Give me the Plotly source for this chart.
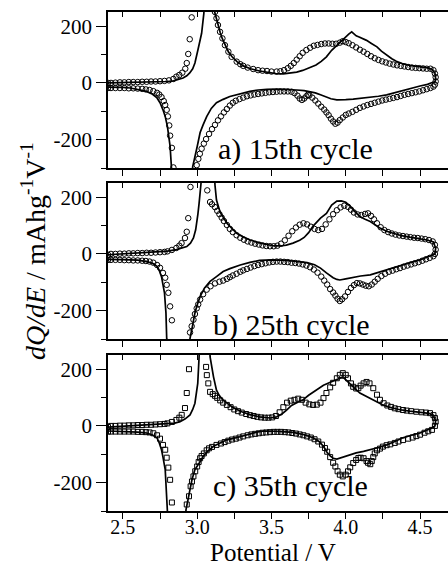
import plotly.graph_objects as go

# ---------------- data: (potential V, dQ/dE mAh g^-1 V^-1) ----------------
# Panel a) 15th cycle
A_LINE_CHG = [(2.40, 0), (2.50, 1), (2.60, 2), (2.70, 3), (2.80, 5), (2.84, 7), (2.88, 12), (2.905, 17),
              (2.93, 25), (2.95, 35), (2.97, 50), (2.985, 70), (3.005, 116), (3.02, 150), (3.03, 175),
              (3.045, 245), (3.08, 700), (3.118, 250), (3.13, 225), (3.14, 202), (3.155, 178), (3.17, 155),
              (3.19, 130), (3.21, 110), (3.235, 92), (3.27, 74), (3.31, 60), (3.36, 50), (3.42, 42),
              (3.48, 36), (3.53, 33), (3.58, 32), (3.625, 34), (3.67, 38), (3.71, 44), (3.75, 52),
              (3.80, 63), (3.835, 76), (3.87, 92), (3.905, 115), (3.94, 133), (3.97, 150), (4.00, 163),
              (4.02, 172), (4.04, 180), (4.06, 170), (4.07, 166), (4.09, 162), (4.11, 158), (4.14, 150),
              (4.17, 140), (4.21, 127), (4.24, 112), (4.275, 98), (4.31, 85), (4.34, 76), (4.38, 68),
              (4.43, 62), (4.48, 58), (4.545, 54), (4.58, 48), (4.60, 35), (4.605, 15), (4.60, 2)]
A_LINE_DIS = [(4.59, 3), (4.55, -5), (4.50, -11), (4.45, -18), (4.385, -28), (4.33, -35), (4.275, -42),
              (4.22, -47), (4.165, -51), (4.10, -54), (4.05, -57), (4.00, -59), (3.94, -60), (3.90, -56),
              (3.865, -50), (3.83, -42), (3.795, -35), (3.76, -30), (3.72, -27), (3.67, -25), (3.60, -23),
              (3.535, -22), (3.47, -23), (3.41, -25), (3.355, -30), (3.29, -38), (3.22, -48), (3.175, -58),
              (3.13, -70), (3.095, -90), (3.064, -119), (3.04, -148), (3.02, -175), (3.00, -225),
              (2.985, -262), (2.97, -295), (2.90, -900), (2.83, -300), (2.818, -224), (2.80, -154),
              (2.785, -118), (2.77, -95), (2.75, -70), (2.73, -53), (2.70, -40), (2.66, -30), (2.60, -22),
              (2.55, -18), (2.50, -16), (2.45, -15), (2.40, -15)]
A_MARK_CHG = [(2.40, 0), (2.42, 0), (2.45, 1), (2.48, 2), (2.51, 2), (2.54, 3), (2.57, 3), (2.60, 3),
              (2.63, 4), (2.66, 4), (2.69, 5), (2.72, 5), (2.75, 6), (2.78, 7), (2.81, 9), (2.84, 14),
              (2.86, 22), (2.88, 28), (2.90, 36), (2.92, 50), (2.93, 70), (2.94, 102), (2.95, 154),
              (2.963, 231), (3.12, 250), (3.13, 228), (3.14, 204), (3.154, 180), (3.17, 157), (3.187, 133),
              (3.21, 110), (3.232, 92), (3.266, 75), (3.29, 66), (3.31, 60), (3.34, 54), (3.377, 49),
              (3.41, 45), (3.44, 43), (3.47, 42), (3.50, 40), (3.535, 40), (3.56, 41), (3.585, 45),
              (3.61, 52), (3.63, 60), (3.65, 70), (3.67, 82), (3.69, 94), (3.71, 106), (3.735, 116),
              (3.76, 124), (3.785, 131), (3.81, 134), (3.835, 137), (3.86, 139), (3.885, 139), (3.91, 138),
              (3.935, 138), (3.96, 142), (3.98, 147), (4.00, 144), (4.02, 140), (4.045, 133), (4.07, 125),
              (4.095, 117), (4.12, 110), (4.145, 102), (4.17, 94), (4.195, 87), (4.22, 81), (4.245, 76),
              (4.27, 72), (4.295, 68), (4.32, 65), (4.345, 62), (4.37, 60), (4.395, 58), (4.42, 56),
              (4.445, 54), (4.47, 53), (4.495, 52), (4.52, 51), (4.545, 50), (4.57, 50), (4.59, 45),
              (4.60, 33), (4.605, 20), (4.605, 5), (4.60, -6)]
A_MARK_DIS = [(4.59, -13), (4.57, -18), (4.545, -22), (4.52, -26), (4.495, -30), (4.47, -33), (4.445, -36),
              (4.42, -39), (4.395, -42), (4.37, -46), (4.345, -50), (4.32, -53), (4.295, -56), (4.27, -59),
              (4.245, -62), (4.22, -66), (4.195, -70), (4.17, -74), (4.145, -78), (4.12, -83), (4.095, -88),
              (4.07, -95), (4.045, -102), (4.02, -108), (4.00, -113), (3.98, -122), (3.96, -131),
              (3.945, -140), (3.93, -144), (3.915, -136), (3.90, -126), (3.885, -114), (3.87, -104),
              (3.855, -94), (3.835, -84), (3.815, -73), (3.795, -62), (3.775, -52), (3.755, -44),
              (3.745, -42), (3.735, -47), (3.72, -55), (3.705, -60), (3.69, -55), (3.675, -45),
              (3.655, -36), (3.635, -31), (3.61, -30), (3.585, -30), (3.56, -30), (3.535, -31), (3.51, -32),
              (3.485, -33), (3.46, -35), (3.435, -37), (3.41, -39), (3.385, -41), (3.36, -44), (3.335, -47),
              (3.31, -52), (3.285, -57), (3.26, -63), (3.24, -70), (3.22, -80), (3.20, -92), (3.18, -104),
              (3.16, -118), (3.14, -132), (3.12, -148), (3.10, -163), (3.08, -180), (3.06, -198),
              (3.045, -214), (3.03, -232), (3.018, -250), (3.008, -268), (2.997, -290),
              (2.84, -298), (2.83, -229), (2.818, -186), (2.812, -150), (2.803, -118), (2.795, -95),
              (2.785, -78), (2.775, -64), (2.76, -50), (2.745, -41), (2.73, -35), (2.705, -29), (2.68, -25),
              (2.655, -23), (2.63, -21), (2.60, -20), (2.57, -19), (2.54, -19), (2.51, -18), (2.48, -18),
              (2.45, -18), (2.42, -18), (2.40, -18)]

# Panel b) 25th cycle
B_LINE_CHG = [(2.40, -3), (2.50, 0), (2.60, 2), (2.68, 6), (2.75, 8), (2.80, 10), (2.86, 15), (2.90, 20),
              (2.93, 26), (2.955, 38), (2.975, 56), (2.99, 85), (2.997, 108), (3.005, 140), (3.013, 178),
              (3.026, 249), (3.07, 800), (3.12, 242), (3.13, 190), (3.154, 148), (3.20, 108), (3.235, 88),
              (3.266, 73), (3.31, 60), (3.355, 49), (3.41, 40), (3.47, 32), (3.52, 28), (3.557, 28),
              (3.60, 31), (3.645, 38), (3.69, 48), (3.72, 58), (3.75, 75), (3.78, 98), (3.80, 110),
              (3.83, 126), (3.87, 143), (3.905, 172), (3.94, 186), (3.97, 187), (4.00, 182), (4.03, 168),
              (4.06, 150), (4.095, 132), (4.13, 122), (4.165, 114), (4.20, 102), (4.23, 91), (4.275, 80),
              (4.32, 72), (4.37, 65), (4.43, 59), (4.49, 54), (4.545, 49), (4.59, 42), (4.605, 20), (4.60, 0)]
B_LINE_DIS = [(4.59, -3), (4.545, -12), (4.50, -21), (4.44, -30), (4.385, -39), (4.33, -47), (4.275, -56),
              (4.22, -65), (4.165, -74), (4.10, -78), (4.05, -82), (4.00, -88), (3.96, -92), (3.94, -90),
              (3.915, -84), (3.89, -76), (3.87, -67), (3.83, -50), (3.79, -38), (3.74, -31), (3.67, -26),
              (3.60, -23), (3.50, -21), (3.42, -23), (3.355, -30), (3.29, -39), (3.22, -52), (3.175, -62),
              (3.13, -80), (3.087, -97), (3.05, -120), (3.02, -150), (3.00, -180), (2.985, -208),
              (2.97, -250), (2.952, -298), (2.88, -900), (2.795, -298), (2.79, -208), (2.78, -137),
              (2.76, -80), (2.745, -58), (2.73, -44), (2.70, -33), (2.66, -27), (2.60, -22), (2.50, -20),
              (2.40, -19)]
B_MARK_CHG = [(2.40, -3), (2.42, 0), (2.45, 0), (2.48, 1), (2.51, 1), (2.54, 2), (2.57, 2), (2.60, 3),
              (2.63, 3), (2.66, 4), (2.69, 4), (2.72, 5), (2.75, 6), (2.78, 7), (2.80, 9), (2.83, 14),
              (2.86, 21), (2.88, 29), (2.895, 38), (2.918, 56), (2.93, 78), (2.94, 126), (2.955, 236),
              (3.068, 224), (3.087, 183), (3.10, 175), (3.12, 165), (3.135, 152), (3.15, 140), (3.165, 128),
              (3.18, 116), (3.20, 102), (3.22, 88), (3.24, 77), (3.265, 66), (3.29, 57), (3.315, 50),
              (3.34, 44), (3.365, 40), (3.39, 36), (3.415, 33), (3.44, 30), (3.465, 28), (3.49, 27),
              (3.515, 27), (3.54, 29), (3.565, 36), (3.59, 48), (3.615, 64), (3.64, 80), (3.665, 93),
              (3.69, 103), (3.715, 108), (3.74, 104), (3.765, 96), (3.79, 88), (3.815, 84), (3.84, 88),
              (3.865, 104), (3.89, 122), (3.915, 140), (3.94, 154), (3.965, 164), (3.99, 170), (4.015, 166),
              (4.035, 156), (4.055, 146), (4.08, 139), (4.105, 137), (4.13, 141), (4.15, 143), (4.17, 134),
              (4.19, 122), (4.21, 108), (4.235, 94), (4.26, 84), (4.285, 77), (4.31, 72), (4.335, 68),
              (4.36, 65), (4.385, 63), (4.41, 61), (4.435, 59), (4.46, 57), (4.485, 56), (4.51, 54),
              (4.535, 52), (4.56, 49), (4.585, 44), (4.60, 32), (4.605, 15), (4.60, 0)]
B_MARK_DIS = [(4.59, -8), (4.565, -14), (4.54, -19), (4.515, -24), (4.49, -29), (4.465, -33), (4.44, -37),
              (4.415, -41), (4.39, -45), (4.365, -50), (4.34, -54), (4.315, -59), (4.29, -63), (4.265, -70),
              (4.24, -78), (4.215, -88), (4.195, -98), (4.175, -108), (4.155, -114), (4.135, -112),
              (4.115, -108), (4.095, -104), (4.075, -103), (4.055, -110), (4.035, -120), (4.015, -134),
              (3.995, -150), (3.975, -160), (3.96, -166), (3.945, -158), (3.93, -147), (3.915, -136),
              (3.895, -124), (3.875, -108), (3.855, -94), (3.835, -80), (3.81, -66), (3.785, -55),
              (3.76, -47), (3.735, -41), (3.71, -37), (3.685, -34), (3.66, -32), (3.635, -31), (3.61, -29),
              (3.585, -28), (3.56, -27), (3.535, -27), (3.51, -28), (3.485, -30), (3.46, -33), (3.435, -36),
              (3.41, -39), (3.385, -43), (3.36, -48), (3.335, -53), (3.31, -58), (3.29, -63), (3.265, -70),
              (3.24, -76), (3.22, -82), (3.20, -88), (3.175, -94), (3.15, -98), (3.12, -104), (3.09, -114),
              (3.064, -126), (3.04, -142), (3.02, -161), (3.007, -178), (2.997, -192), (2.985, -212),
              (2.975, -232), (2.963, -255), (2.952, -277),
              (2.83, -234), (2.818, -185), (2.806, -137), (2.795, -109), (2.785, -84), (2.77, -67),
              (2.75, -49), (2.73, -39), (2.705, -31), (2.68, -27), (2.655, -25), (2.63, -24), (2.60, -23),
              (2.57, -23), (2.54, -22), (2.51, -22), (2.48, -21), (2.45, -21), (2.42, -21), (2.40, -21)]

# Panel c) 35th cycle
C_LINE_CHG = [(2.40, -4), (2.50, -1), (2.60, 1), (2.70, 3), (2.80, 7), (2.85, 10), (2.885, 15), (2.92, 25),
              (2.952, 39), (2.97, 58), (2.985, 80), (2.997, 115), (3.004, 150), (3.013, 243), (3.05, 800),
              (3.087, 243), (3.10, 200), (3.11, 173), (3.13, 126), (3.15, 106), (3.175, 91), (3.21, 76),
              (3.24, 65), (3.30, 50), (3.355, 40), (3.42, 32), (3.49, 28), (3.535, 32), (3.57, 42),
              (3.60, 55), (3.635, 72), (3.67, 82), (3.71, 91), (3.75, 108), (3.80, 126), (3.85, 143),
              (3.90, 155), (3.94, 162), (3.97, 170), (3.99, 168), (4.02, 152), (4.05, 138), (4.095, 116),
              (4.13, 106), (4.165, 98), (4.21, 86), (4.25, 74), (4.30, 65), (4.365, 57), (4.43, 52),
              (4.50, 49), (4.56, 44), (4.59, 38), (4.605, 18), (4.60, 0)]
C_LINE_DIS = [(4.58, -7), (4.54, -16), (4.50, -25), (4.44, -33), (4.385, -42), (4.33, -55), (4.275, -67),
              (4.22, -76), (4.165, -84), (4.12, -90), (4.07, -95), (4.03, -102), (4.00, -108), (3.97, -113),
              (3.94, -117), (3.915, -114), (3.895, -106), (3.87, -90), (3.85, -72), (3.82, -55), (3.78, -42),
              (3.72, -31), (3.645, -23), (3.55, -19), (3.45, -18), (3.40, -22), (3.335, -32), (3.27, -41),
              (3.20, -49), (3.155, -60), (3.11, -72), (3.07, -90), (3.04, -108), (3.015, -130),
              (2.985, -154), (2.965, -190), (2.952, -225), (2.937, -262), (2.925, -295), (2.86, -900),
              (2.80, -295), (2.797, -225), (2.785, -154), (2.77, -110), (2.76, -84), (2.745, -60),
              (2.73, -42), (2.70, -32), (2.66, -25), (2.60, -22), (2.50, -19), (2.40, -18)]
C_MARK_CHG = [(2.40, -4), (2.42, 0), (2.45, 0), (2.48, 1), (2.51, 1), (2.54, 2), (2.57, 2), (2.60, 3),
              (2.63, 3), (2.66, 4), (2.69, 4), (2.72, 5), (2.75, 6), (2.78, 7), (2.80, 9), (2.83, 14),
              (2.86, 21), (2.88, 29), (2.896, 39), (2.918, 63), (2.93, 116), (2.945, 200),
              (3.06, 208), (3.065, 179), (3.075, 150), (3.087, 120), (3.105, 112), (3.12, 106), (3.135, 99),
              (3.155, 90), (3.175, 82), (3.20, 74), (3.225, 66), (3.25, 58), (3.275, 52), (3.30, 47),
              (3.33, 42), (3.355, 38), (3.38, 35), (3.405, 32), (3.43, 30), (3.455, 29), (3.48, 29),
              (3.505, 30), (3.53, 35), (3.555, 48), (3.58, 66), (3.605, 82), (3.63, 89), (3.655, 92),
              (3.68, 96), (3.705, 92), (3.73, 82), (3.755, 76), (3.78, 74), (3.805, 75), (3.83, 82),
              (3.85, 98), (3.87, 116), (3.895, 136), (3.915, 152), (3.94, 168), (3.96, 180), (3.98, 186),
              (4.00, 180), (4.015, 168), (4.035, 150), (4.05, 138), (4.07, 132), (4.085, 133), (4.10, 142),
              (4.12, 150), (4.14, 155), (4.16, 150), (4.185, 133), (4.21, 110), (4.23, 92), (4.255, 80),
              (4.28, 72), (4.305, 67), (4.33, 62), (4.355, 59), (4.385, 56), (4.41, 54), (4.44, 52),
              (4.475, 50), (4.51, 48), (4.54, 47), (4.567, 45), (4.59, 38), (4.60, 28), (4.605, 15),
              (4.60, 0)]
C_MARK_DIS = [(4.58, -14), (4.555, -19), (4.53, -24), (4.50, -31), (4.475, -36), (4.45, -41), (4.42, -45),
              (4.385, -50), (4.355, -55), (4.33, -60), (4.30, -65), (4.275, -68), (4.25, -73), (4.23, -80),
              (4.21, -86), (4.195, -97), (4.185, -110), (4.175, -124), (4.165, -135), (4.15, -130),
              (4.14, -124), (4.12, -114), (4.10, -112), (4.085, -113), (4.07, -120), (4.05, -131),
              (4.03, -146), (4.015, -160), (4.00, -172), (3.98, -178), (3.96, -172), (3.945, -160),
              (3.93, -143), (3.915, -130), (3.895, -110), (3.875, -91), (3.86, -78), (3.84, -66),
              (3.815, -55), (3.79, -47), (3.765, -41), (3.74, -37), (3.715, -33), (3.69, -30), (3.665, -27),
              (3.64, -25), (3.615, -23), (3.59, -22), (3.565, -21), (3.54, -21), (3.515, -21), (3.49, -22),
              (3.465, -23), (3.44, -24), (3.415, -26), (3.39, -28), (3.365, -30), (3.34, -33), (3.31, -37),
              (3.285, -41), (3.26, -45), (3.235, -48), (3.21, -52), (3.185, -57), (3.16, -62), (3.13, -67),
              (3.10, -74), (3.08, -79), (3.064, -86), (3.045, -97), (3.03, -106), (3.02, -114),
              (3.01, -127), (3.00, -143), (2.987, -160), (2.975, -178), (2.965, -196), (2.956, -213),
              (2.945, -248), (2.93, -277),
              (2.83, -270), (2.818, -190), (2.806, -147), (2.795, -112), (2.785, -84), (2.77, -67),
              (2.75, -45), (2.73, -33), (2.705, -26), (2.68, -23), (2.655, -22), (2.63, -21), (2.60, -21),
              (2.57, -20), (2.54, -20), (2.51, -20), (2.48, -20), (2.45, -20), (2.42, -20), (2.40, -20)]

PANEL_LABELS = ["a) 15th cycle", "b) 25th cycle", "c) 35th cycle"]
X_TITLE = "Potential / V"
Y_TITLE = "<i>dQ/dE</i> / mAhg<sup>-1</sup>V<sup>-1</sup>"
Y_TICK_VALS = [-200, 0, 200]
Y_TICK_TEXT = ["-200", "0", "200"]
X_TICK_VALS = [2.5, 3.0, 3.5, 4.0, 4.5]
X_TICK_TEXT = ["2.5", "3.0", "3.5", "4.0", "4.5"]

# ---------------- layout geometry (pixels) ----------------
W, H = 448, 567
PL, PR = 108, 448
PT, PB = 12, 511
PANELS_PX = [(12, 168), (183, 339), (355, 511)]
X_RANGE = [2.4, 2.4 + (PR - PL) / 148.6]
Y_RANGE = [-300, 250]
FONT = "Times New Roman, Liberation Serif, serif"


def xp(px):
    return (px - PL) / (PR - PL)


def yp(py):
    return (PB - py) / (PB - PT)


def unzip(pts):
    return [p[0] for p in pts], [p[1] for p in pts]


panels = [
    (A_LINE_CHG + A_LINE_DIS, A_MARK_CHG + A_MARK_DIS, "circle-open"),
    (B_LINE_CHG + B_LINE_DIS, B_MARK_CHG + B_MARK_DIS, "circle-open"),
    (C_LINE_CHG + C_LINE_DIS, C_MARK_CHG + C_MARK_DIS, "square-open"),
]

fig = go.Figure()
layout = dict(
    width=W, height=H,
    margin=dict(l=PL, r=W - PR, t=PT, b=H - PB, pad=0),
    paper_bgcolor="white", plot_bgcolor="white",
    showlegend=False,
    font=dict(family=FONT, color="black"),
)

for i, (line_pts, mark_pts, sym) in enumerate(panels):
    n = i + 1
    xa = "x" if n == 1 else f"x{n}"
    ya = "y" if n == 1 else f"y{n}"
    top_n = n + 3
    lv, lq = unzip(line_pts)
    mv, mq = unzip(mark_pts)
    fig.add_trace(go.Scatter(x=mv, y=mq, mode="markers", xaxis=xa, yaxis=ya,
                             marker=dict(symbol=sym, size=5.5 if sym.startswith("circle") else 5,
                                         color="black", line=dict(width=1, color="black")),
                             hoverinfo="skip"))
    fig.add_trace(go.Scatter(x=lv, y=lq, mode="lines", xaxis=xa, yaxis=ya,
                             line=dict(color="black", width=1.7), hoverinfo="skip"))
    fig.add_trace(go.Scatter(x=[None], y=[None], xaxis=f"x{top_n}", yaxis=ya, hoverinfo="skip"))

    t, b = PANELS_PX[i]
    dom = [yp(b), yp(t)]
    bottom = (i == 2)
    layout["xaxis" if n == 1 else f"xaxis{n}"] = dict(
        domain=[0, 1], anchor=ya, range=X_RANGE, showgrid=False, zeroline=False,
        showline=True, linecolor="black", linewidth=1.5,
        ticks="outside", ticklen=6, tickwidth=1.2, tickcolor="black",
        tickmode="array", tickvals=X_TICK_VALS, ticktext=X_TICK_TEXT,
        minor=dict(ticks="outside", ticklen=6, tickwidth=1.2, tickcolor="black",
                   tickmode="linear", dtick=0.25, tick0=2.5),
        showticklabels=bottom, tickfont=dict(family=FONT, size=20, color="black"),
        ticklabelstandoff=-9,
    )
    layout[f"xaxis{top_n}"] = dict(
        overlaying=xa, anchor=ya, side="top", range=X_RANGE, showgrid=False, zeroline=False,
        showline=True, linecolor="black", linewidth=1.5,
        ticks="inside", ticklen=5, tickwidth=1.2, tickcolor="black",
        tickmode="array", tickvals=X_TICK_VALS,
        minor=dict(ticks="inside", ticklen=5, tickwidth=1.2, tickcolor="black",
                   tickmode="linear", dtick=0.25, tick0=2.5),
        showticklabels=False,
    )
    layout["yaxis" if n == 1 else f"yaxis{n}"] = dict(
        domain=dom, anchor=xa, range=Y_RANGE, showgrid=False, zeroline=False,
        showline=True, linecolor="black", linewidth=1.5,
        ticks="outside", ticklen=10, tickwidth=1.2, tickcolor="black",
        tickmode="array", tickvals=Y_TICK_VALS, ticktext=Y_TICK_TEXT,
        minor=dict(ticks="outside", ticklen=5, tickwidth=1.2, tickcolor="black",
                   tickmode="linear", dtick=100, tick0=0),
        tickfont=dict(family=FONT, size=21, color="black"),
    )

LABEL_POS = [(295, 149), (291, 325), (290, 486)]
annotations = []
for (px, py), txt in zip(LABEL_POS, PANEL_LABELS):
    annotations.append(dict(text=txt, xref="paper", yref="paper", x=xp(px), y=yp(py),
                            xanchor="center", yanchor="middle", showarrow=False,
                            font=dict(family=FONT, size=30, color="black")))
annotations.append(dict(text=X_TITLE, xref="paper", yref="paper", x=xp(273), y=yp(552),
                        xanchor="center", yanchor="middle", showarrow=False,
                        font=dict(family=FONT, size=25, color="black")))
annotations.append(dict(text=Y_TITLE, xref="paper", yref="paper", x=xp(33), y=yp(251),
                        xanchor="center", yanchor="middle", showarrow=False, textangle=-90,
                        font=dict(family=FONT, size=28, color="black")))
layout["annotations"] = annotations

fig.update_layout(**layout)
fig.write_html("out.html", config={"displayModeBar": False},
               post_script="document.body.style.margin='0px';document.body.style.overflow='hidden';")
